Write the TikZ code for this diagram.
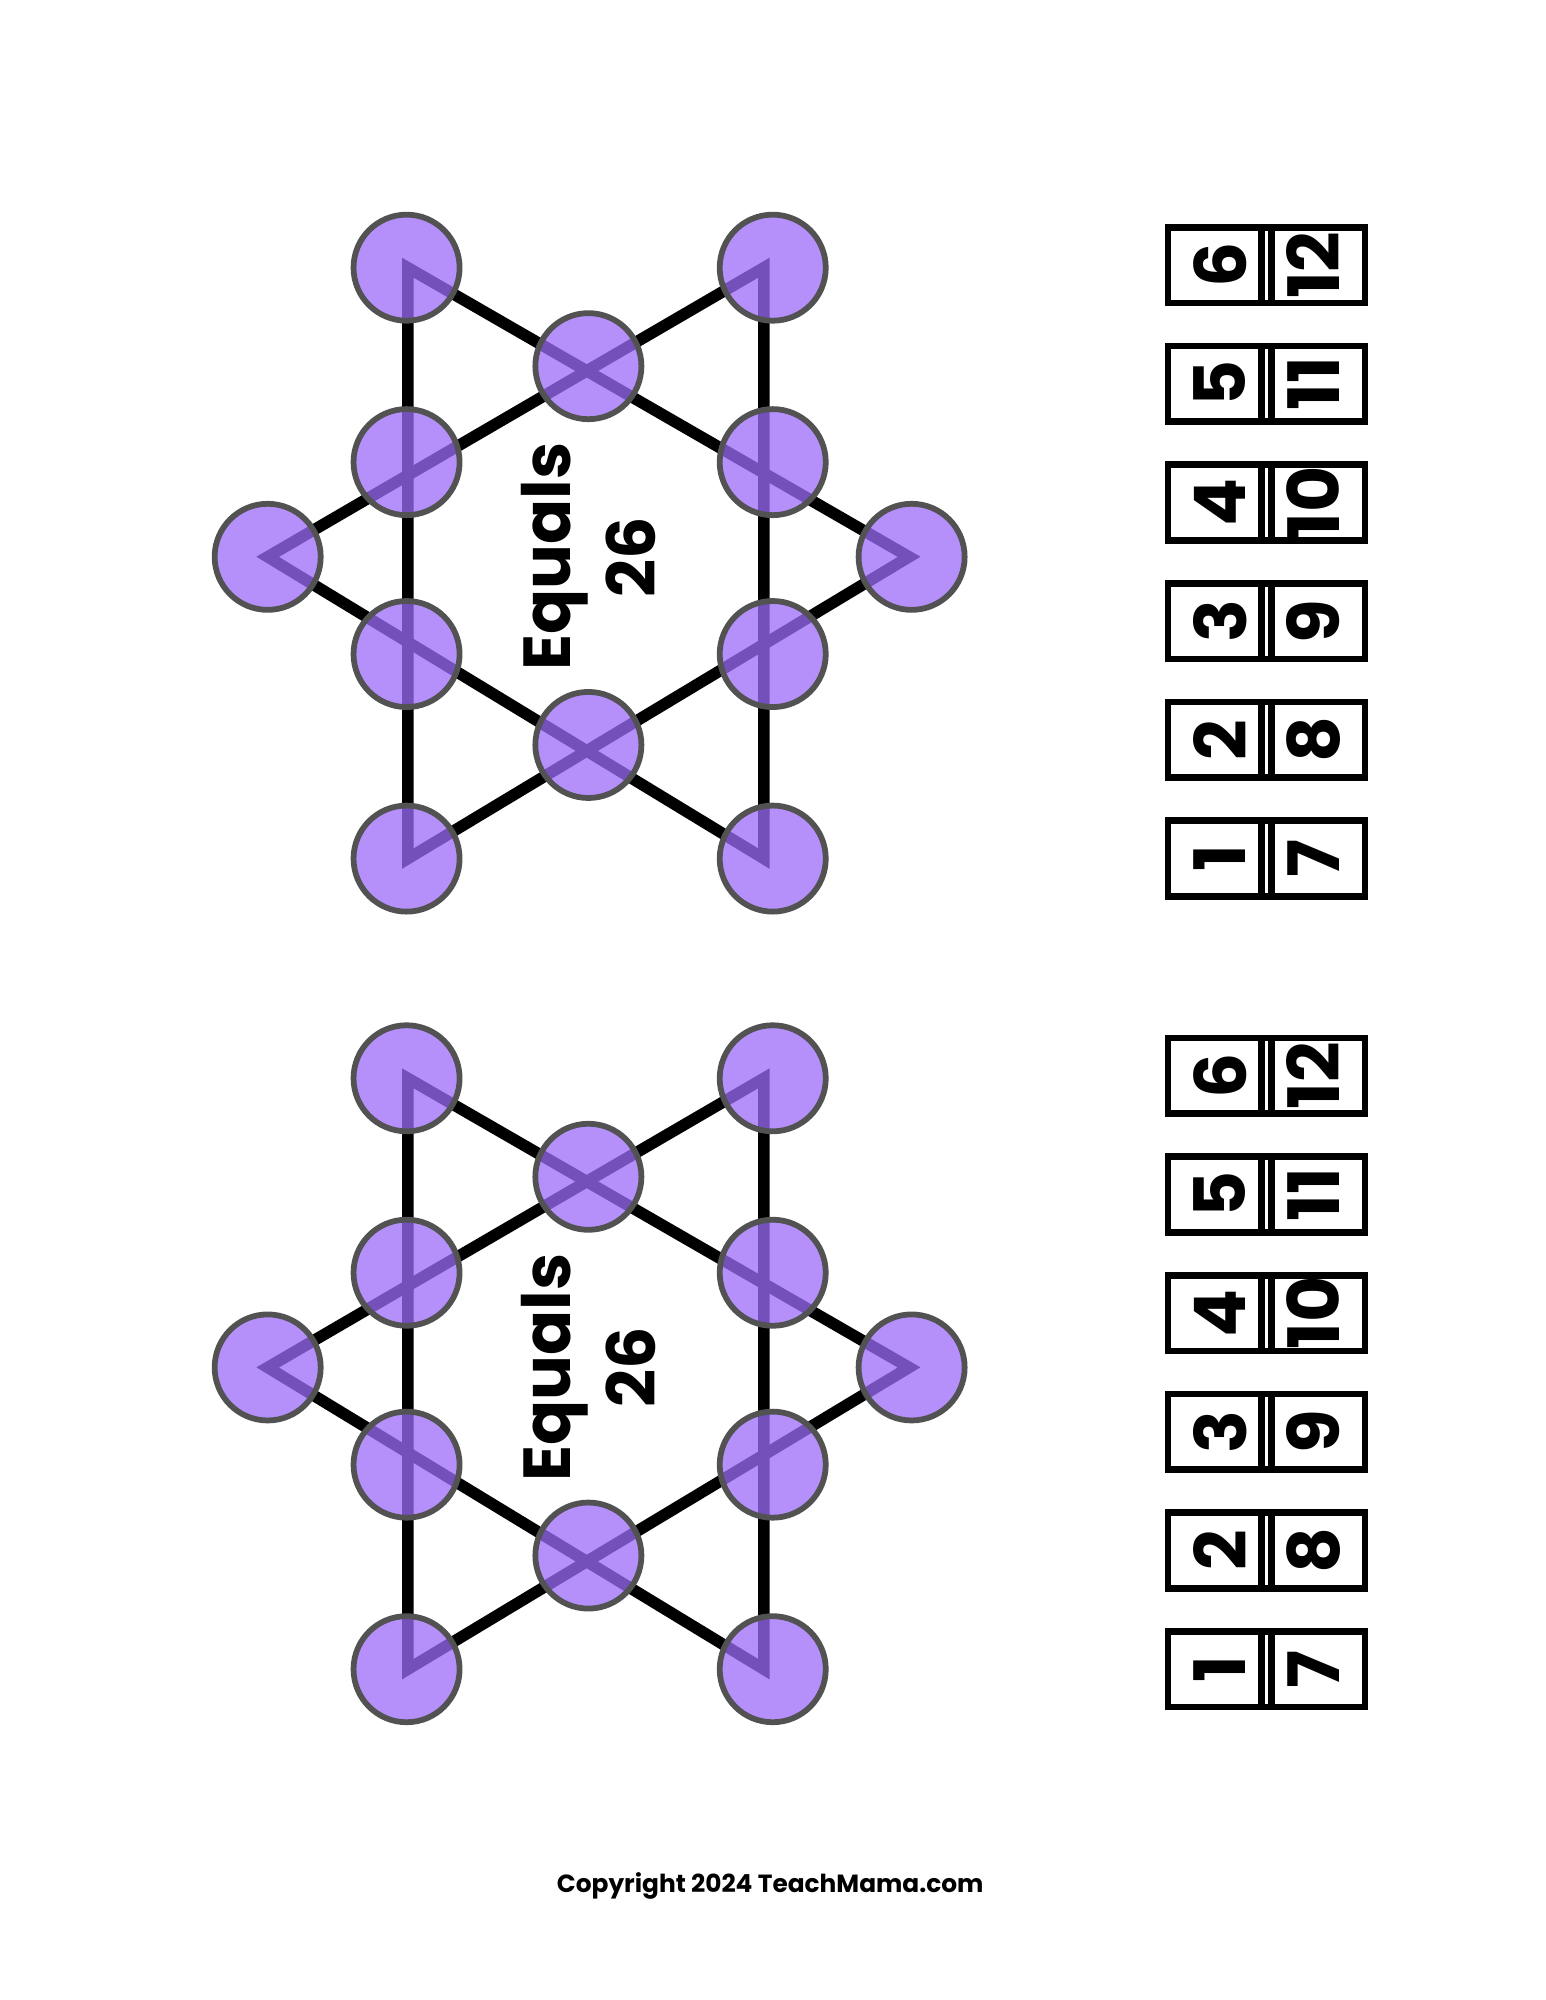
\documentclass[tikz,border=0pt]{standalone}
\usepackage{fontspec}
\setmainfont{Poppins}
\usetikzlibrary{calc}
\tikzset{
	spot/.style={circle, minimum size=0.84cm, inner sep=0pt, draw=black!68, line width=1.3pt, fill=violet1, fill opacity=0.75},
	edge/.style={line width=2.6pt, line join=miter},
	tile/.style={draw, line width=1.5pt, minimum width=0.6cm, minimum height=0.82cm, inner sep=0pt, rotate=90, font=\bfseries\fontsize{16}{16}\selectfont}
}
\definecolor{violet1}{HTML}{9C6BFA}
\begin{document}
\begin{tikzpicture}[y=-1cm]
	\useasboundingbox (0,0) rectangle (12.24,15.84);
	
	%%%%     STARS     %%%%
	\foreach \dy/\s in {0/a, 6.42/b}{
	\begin{scope}[yshift=-\dy cm]
		%triangle corners
		\coordinate (\s tl) at (3.23,2.12);
		\coordinate (\s tr) at (6.05,2.12);
		\coordinate (\s bl) at (3.23,6.80);
		\coordinate (\s br) at (6.05,6.80);
		\coordinate (\s l) at (2.12,4.41);
		\coordinate (\s r) at (7.20,4.41);
		
		\draw[edge] (\s tl) -- (\s r) -- (\s bl) -- cycle;
		\draw[edge] (\s tr) -- (\s l) -- (\s br) -- cycle;
		
		% cercles
		\foreach \x/\y [count=\i] in {3.22/2.12, 6.12/2.12, 4.66/2.90, 3.22/3.66, 6.12/3.66, 2.12/4.41,
			7.22/4.41, 3.22/5.18, 6.12/5.18, 4.66/5.90, 3.22/6.80, 6.12/6.80}
			\node[spot] (\s c\i) at (\x,\y) {};
		
		\node[rotate=90, align=center, font=\bfseries\fontsize{15}{19}\selectfont] (\s txt) at (4.66,4.41) {Equals\\26};
		
		% plaquettes
		\foreach \n [count=\j] in {6,5,4,3,2,1}
			\node[tile] (\s n\n) at (9.66,2.10+0.94*\j-0.94) {\n};
		\foreach \n [count=\j] in {12,11,10,9,8,7}
			\node[tile] (\s n\n) at (10.40,2.10+0.94*\j-0.94) {\n};
	\end{scope}
	}
	
	\node[font=\bfseries\fontsize{5.6}{6}\selectfont] (copy) at (6.10,14.94) {Copyright 2024 TeachMama.com};
\end{tikzpicture}
\end{document}
